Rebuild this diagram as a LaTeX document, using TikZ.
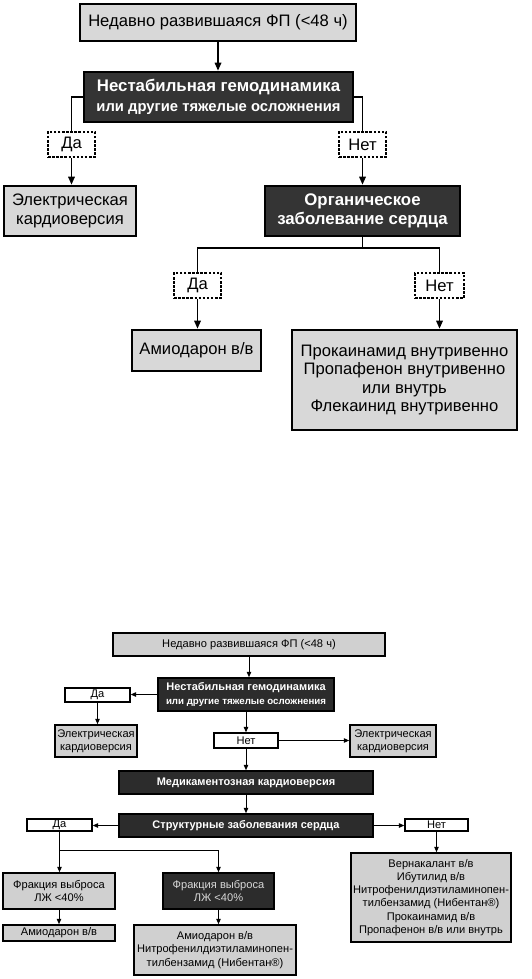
\documentclass[tikz,border=0pt]{standalone}
\usepackage{fontspec}
\setmainfont{Liberation Sans}
\usetikzlibrary{arrows.meta}
\definecolor{lgray}{HTML}{D8D8D8}
\definecolor{dgray}{HTML}{343434}
\definecolor{lgrayb}{HTML}{D0D0D0}
\definecolor{dgrayb}{HTML}{2C2C2C}
\definecolor{ftext}{HTML}{D8D8D8}
\newcommand\mybox[6]{\node[#1,minimum width={(#4-#2-2)*1pt},minimum height={(#5-#3-2)*1pt}] (#6) at ({(#2+#4)/2},{(#3+#5)/2})}
\tikzset{
 box/.style={rectangle, inner sep=0pt, align=center},
 tg/.style={box, draw=black, line width=2.6pt, fill=lgray, text=black, font=\fontsize{16.6}{18.6}\selectfont},
 td/.style={box, draw=black, line width=2.6pt, fill=dgray, text=white, font=\fontsize{16.8}{19.5}\selectfont\bfseries},
 tdash/.style={box, draw=black, line width=2.2pt, dash pattern=on 2.5pt off 1.6pt, fill=white, font=\fontsize{16.6}{18}\selectfont},
 tline/.style={line width=1.6pt},
 tarr/.style={tline, -{Triangle[length=8pt,width=6.5pt]}},
 bg/.style={box, draw=black, line width=1.5pt, fill=lgrayb, text=black, font=\fontsize{11.1}{13.2}\selectfont},
 bd/.style={box, draw=black, line width=1.5pt, fill=dgrayb, text=white, font=\fontsize{11}{13.2}\selectfont\bfseries},
 bw/.style={box, draw=black, line width=1.3pt, fill=white, text=black, font=\fontsize{11.1}{13}\selectfont},
 bline/.style={line width=1pt},
 barr/.style={bline, -{Triangle[length=5.5pt,width=4.5pt]}},
}
\begin{document}
\begin{tikzpicture}[x=1pt,y=-1pt]
\useasboundingbox[fill=white] (0,0) rectangle (531,979);
% ---------- top chart ----------
\mybox{tg}{79}{3}{357}{42}{n1} {Недавно развившаяся ФП (<48 ч)};
\mybox{td}{83}{71}{354}{123}{n2} {Нестабильная гемодинамика\\[0.5pt]{\fontsize{14.8}{16}\selectfont\bfseries или другие тяжелые осложнения}};
\mybox{tdash}{47}{131}{96}{158}{da1} {Да};
\mybox{tg}{3}{185}{137}{237}{el1} {Электрическая\\кардиоверсия};
\mybox{tdash}{338}{131}{387}{158}{net1} {Нет};
\mybox{td}{264}{185}{461}{237}{org} {Органическое\\заболевание сердца};
\mybox{tdash}{173}{272}{222}{299}{da2} {Да};
\mybox{tdash}{414}{272}{465}{299}{net2} {Нет};
\mybox{tg}{131}{329}{262}{372}{am1} {Амиодарон в/в};
\mybox{tg}{291}{329}{518}{431}{pr1} {Прокаинамид внутривенно\\Пропафенон внутривенно\\или внутрь\\Флекаинид внутривенно};
\coordinate (j1) at (0,248);
\draw[tarr] (n1.south) -- (n1.south |- n2.north);
\draw[tline] (n2.west) -| (da1.north);
\draw[tarr] (da1.south) -- (da1.south |- el1.north);
\draw[tline] (n2.east) -| (net1.north);
\draw[tarr] (net1.south) -- (net1.south |- org.north);
\draw[tline] (org.south) -- (org.south |- j1);
\draw[tline] (da2.north) -- (da2.north |- j1) -- (net2.north |- j1) -- (net2.north);
\draw[tarr] (da2.south) -- (da2.south |- am1.north);
\draw[tarr] (net2.south) -- (net2.south |- pr1.north);
% ---------- bottom chart ----------
\mybox{bg}{112}{632}{386}{657}{b1} {Недавно развившаяся ФП (<48 ч)};
\mybox{bd}{157}{677}{335}{712}{b2} {Нестабильная гемодинамика\\{\fontsize{9.7}{11}\selectfont\bfseries или другие тяжелые осложнения}};
\mybox{bw}{64}{687}{131}{703}{bda1} {Да};
\mybox{bg}{54}{724}{138}{758}{bel1} {Электрическая\\кардиоверсия};
\mybox{bw}{213}{732}{279}{749}{bnet1} {Нет};
\mybox{bg}{349}{724}{437}{758}{bel2} {Электрическая\\кардиоверсия};
\mybox{bd}{118}{770}{374}{795}{bmed} {Медикаментозная кардиоверсия};
\mybox{bd}{118}{813}{374}{838}{bstr} {Структурные заболевания сердца};
\mybox{bw}{26}{818}{93}{832}{bda2} {Да};
\mybox{bw}{404}{818}{469}{832}{bnet2} {Нет};
\mybox{bg}{2}{872}{116}{910}{bf1} {Фракция выброса\\ЛЖ <40\%};
\mybox{bd,text=ftext,font=\fontsize{11.1}{13.2}\selectfont}{162}{872}{275}{910}{bf2} {Фракция выброса\\ЛЖ <40\%};
\mybox{bg}{2}{924}{116}{942}{bam1} {Амиодарон в/в};
\mybox{bg}{133}{924}{297}{976}{bam2} {Амиодарон в/в\\Нитрофенилдиэтиламинопен-\\тилбензамид (Нибентан®)};
\mybox{bg}{350}{852}{512}{943}{bver} {Вернакалант в/в\\Ибутилид в/в\\Нитрофенилдиэтиламинопен-\\тилбензамид (Нибентан®)\\Прокаинамид в/в\\Пропафенон в/в или внутрь};
\coordinate (j2) at (0,850);
\draw[barr] (b1.south) -- (b1.south |- b2.north);
\draw[barr] (b2.west) -- (b2.west -| bda1.east);
\draw[barr] (bda1.south) -- (bda1.south |- bel1.north);
\draw[barr] (b2.south) -- (b2.south |- bnet1.north);
\draw[barr] (bnet1.east) -- (bnet1.east -| bel2.west);
\draw[barr] (bnet1.south) -- (bnet1.south |- bmed.north);
\draw[barr] (bmed.south) -- (bmed.south |- bstr.north);
\draw[barr] (bstr.west) -- (bstr.west -| bda2.east);
\draw[barr] (bstr.east) -- (bstr.east -| bnet2.west);
\draw[bline] (bda2.south) -- (bda2.south |- j2) -- (bf2.north |- j2);
\draw[barr] (bda2.south |- j2) -- (bda2.south |- bf1.north);
\draw[barr] (bf2.north |- j2) -- (bf2.north);
\draw[barr] (bf1.south) -- (bf1.south |- bam1.north);
\draw[barr] (bf2.south) -- (bf2.south |- bam2.north);
\draw[barr] (bnet2.south) -- (bnet2.south |- bver.north);
\end{tikzpicture}
\end{document}
